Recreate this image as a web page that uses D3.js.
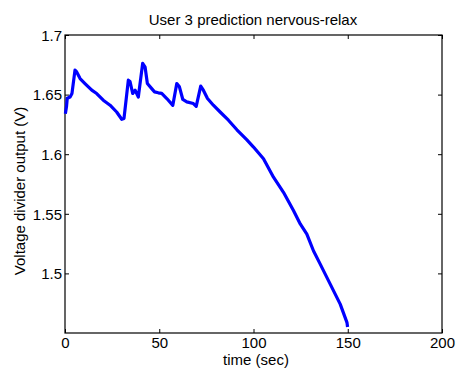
<!DOCTYPE html>
<html><head><meta charset="utf-8">
<script src="https://cdn.jsdelivr.net/npm/d3@7"></script>
<style>body{margin:0;background:#fff}svg{display:block}text{font-family:"Liberation Sans",Arial,sans-serif;fill:#000}</style>
</head><body><svg id="c" width="456" height="371"></svg>
<script>
const titleText = "User 3 prediction nervous-relax";
const xLabel = "time (sec)";
const yLabel = "Voltage divider output (V)";
const xTicks = [0, 50, 100, 150, 200];
const yTicks = [1.5, 1.55, 1.6, 1.65, 1.7];
const timeSec = [0.2,0.8,1.2,2.7,3.7,5.3,6.2,8.0,10.6,14.2,16.8,20.3,23.9,27.4,30.1,31.3,33.6,34.5,35.9,37.2,38.9,41.2,42.5,43.7,46.0,47.5,49.5,51.3,54.0,57.2,59.3,60.7,62.5,64.6,68.1,69.6,72.0,73.4,75.6,78.7,82.3,86.7,91.2,96.5,100.0,105.3,110.6,115.9,121.2,124.8,128.3,131.8,135.4,140.7,146.0,149.6,149.9];
const voltage = [1.634,1.640,1.647,1.648,1.651,1.6705,1.669,1.6635,1.6593,1.6537,1.6509,1.6453,1.6411,1.6354,1.6293,1.630,1.6621,1.661,1.651,1.6537,1.648,1.6762,1.673,1.6593,1.655,1.6523,1.6515,1.651,1.6467,1.641,1.6593,1.6565,1.6459,1.6439,1.6425,1.6402,1.6571,1.6537,1.6467,1.6411,1.6354,1.6285,1.6205,1.612,1.606,1.5962,1.5807,1.568,1.5527,1.5415,1.533,1.519,1.5078,1.491,1.4742,1.4587,1.455];

const svg = d3.select("#c");
const L=65, R=442, T=35, B=333;
const x = d3.scaleLinear().domain([0,200]).range([L,R]);
const y = d3.scaleLinear().domain([1.45,1.7]).range([B,T]);

const fs = 15;
const fmt = d => String(d);
const gx = svg.append("g").attr("transform",`translate(0,${B})`)
  .call(d3.axisBottom(x).tickValues(xTicks).tickFormat(fmt).tickSizeInner(-4).tickSizeOuter(0).tickPadding(4));
const gy = svg.append("g").attr("transform",`translate(${L},0)`)
  .call(d3.axisLeft(y).tickValues(yTicks).tickFormat(fmt).tickSizeInner(-4).tickSizeOuter(0).tickPadding(3));
const gt = svg.append("g").attr("transform",`translate(0,${T})`)
  .call(d3.axisTop(x).tickValues(xTicks).tickFormat("").tickSizeInner(-4).tickSizeOuter(0));
const gr = svg.append("g").attr("transform",`translate(${R},0)`)
  .call(d3.axisRight(y).tickValues(yTicks).tickFormat("").tickSizeInner(-4).tickSizeOuter(0));
[gx,gy,gt,gr].forEach(g=>{
  g.selectAll(".domain").remove();
  g.selectAll("line").attr("stroke","#000");
  g.selectAll("text").attr("font-size",fs).attr("font-family","Liberation Sans, Arial, sans-serif");
});
gy.selectAll("text").attr("dy","0.35em");
gx.selectAll(".tick text").attr("dy","0.71em");

svg.append("rect").attr("x",L).attr("y",T).attr("width",R-L).attr("height",B-T)
  .attr("fill","none").attr("stroke","#000").attr("stroke-width",1.2);

const line = d3.line().x((d,i)=>x(timeSec[i])).y(d=>y(d));
svg.append("path").datum(voltage).attr("d",line).attr("fill","none")
  .attr("stroke","#0000ff").attr("stroke-width",3.2).attr("stroke-linejoin","round");

svg.append("text").attr("x",253).attr("y",25).attr("text-anchor","middle").attr("font-size",15).text(titleText);
svg.append("text").attr("x",256).attr("y",365).attr("text-anchor","middle").attr("font-size",15).text(xLabel);
svg.append("text").attr("transform","translate(25,191) rotate(-90)").attr("text-anchor","middle").attr("font-size",15).text(yLabel);
</script></body></html>
